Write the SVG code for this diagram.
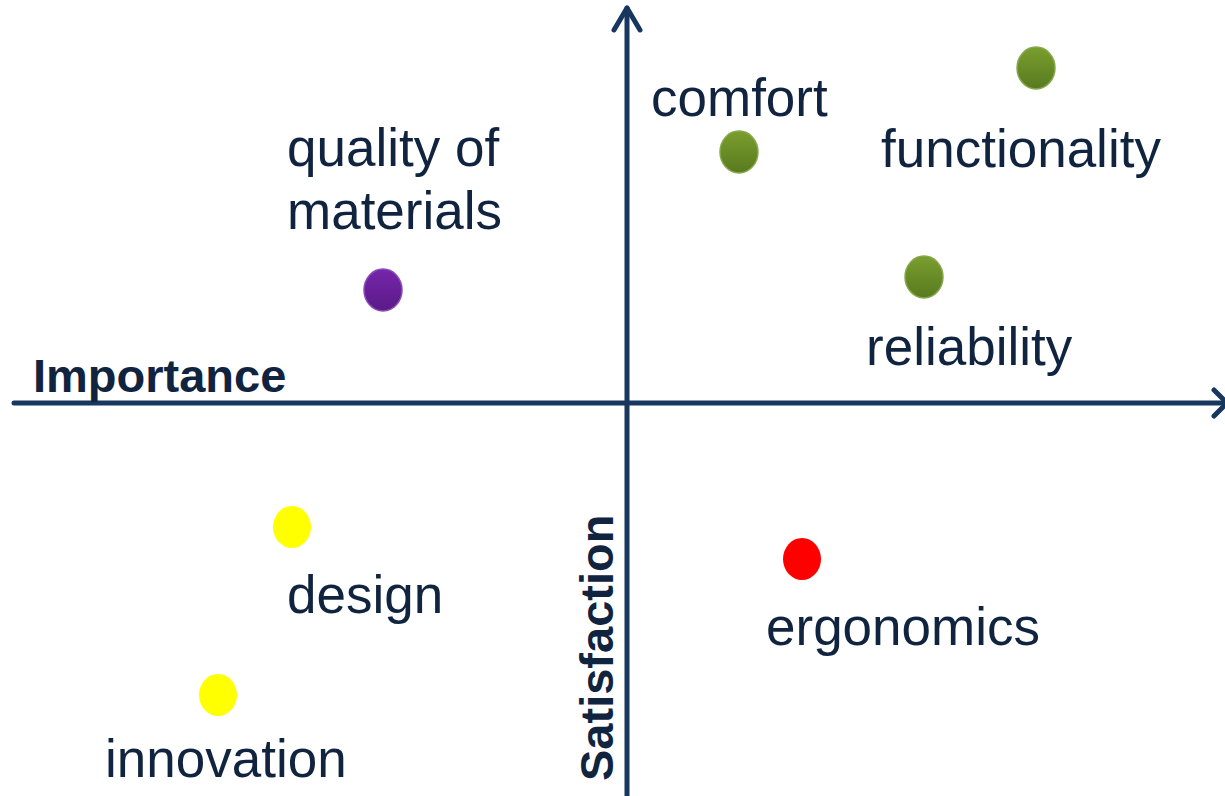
<svg xmlns="http://www.w3.org/2000/svg" width="1225" height="796" viewBox="0 0 1225 796">
<style>
.lbl{font-family:"Liberation Sans",Arial,sans-serif;font-size:53px;fill:#10243f}
.ax{font-family:"Liberation Sans",Arial,sans-serif;font-size:47px;font-weight:bold;fill:#10243f}
.axis{stroke:#17375e;stroke-width:5;fill:none;stroke-linecap:round;stroke-linejoin:round}
</style>
<defs>
<linearGradient id="gG" x1="0" y1="0" x2="0" y2="1"><stop offset="0" stop-color="#7a9e2e"/><stop offset="1" stop-color="#587a20"/></linearGradient>
<linearGradient id="gP" x1="0" y1="0" x2="0" y2="1"><stop offset="0" stop-color="#7626ab"/><stop offset="1" stop-color="#5a1a88"/></linearGradient>
</defs>
<g id="connectors">
<path class="axis" d="M14 403 H1226"/>
<path class="axis" d="M1214 390 L1227 403 L1214 416"/>
<path class="axis" d="M627 796 V8"/>
<path class="axis" d="M614 30 L627 8 L640 30"/>
</g>
<g id="axis-importance"><text class="ax" x="33" y="392">Importance</text></g>
<g id="axis-satisfaction"><text class="ax" transform="translate(613,781) rotate(-90)">Satisfaction</text></g>
<g id="comfort"><ellipse cx="739" cy="152" rx="19" ry="21" fill="url(#gG)" stroke="#86a84a" stroke-width="1.5"/><text class="lbl" x="651" y="116">comfort</text></g>
<g id="functionality"><ellipse cx="1036" cy="68" rx="19" ry="21" fill="url(#gG)" stroke="#86a84a" stroke-width="1.5"/><text class="lbl" x="881" y="167">functionality</text></g>
<g id="reliability"><ellipse cx="924" cy="277" rx="19" ry="21" fill="url(#gG)" stroke="#86a84a" stroke-width="1.5"/><text class="lbl" x="866" y="365">reliability</text></g>
<g id="quality"><ellipse cx="383" cy="290" rx="19" ry="21" fill="url(#gP)" stroke="#8a4ab8" stroke-width="1.5"/><text class="lbl" x="287" y="166">quality of</text><text class="lbl" x="287" y="229">materials</text></g>
<g id="design"><ellipse cx="292" cy="527" rx="19" ry="21" fill="#ffff00"/><text class="lbl" x="287" y="613">design</text></g>
<g id="innovation"><ellipse cx="218" cy="695" rx="19" ry="21" fill="#ffff00"/><text class="lbl" x="105" y="777">innovation</text></g>
<g id="ergonomics"><ellipse cx="802" cy="559" rx="19" ry="21" fill="#ff0000"/><text class="lbl" x="766" y="645">ergonomics</text></g>
</svg>
